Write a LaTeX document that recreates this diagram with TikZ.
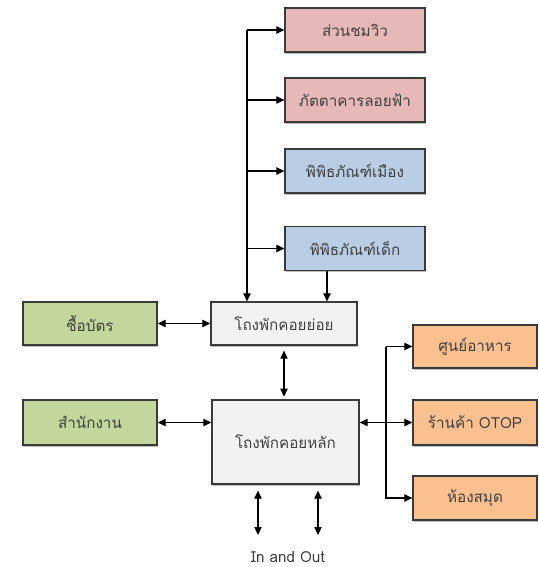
\documentclass[tikz,border=0pt]{standalone}
\usepackage{fontspec}
\newfontfamily\thaifont[Script=Thai]{Loma}
\usetikzlibrary{arrows.meta, shadows}

\definecolor{pinkbox}{HTML}{E6B9B8}
\definecolor{bluebox}{HTML}{B9CDE5}
\definecolor{greenbox}{HTML}{C3D69B}
\definecolor{orangebox}{HTML}{FAC090}
\definecolor{graybox}{HTML}{F2F2F2}
\definecolor{edge}{HTML}{3A3A3A}

\begin{document}
\begin{tikzpicture}[
        box/.style={draw=edge, line width=1.1pt, minimum width=#1, inner sep=0pt,
            font=\thaifont\fontsize{13}{15}\selectfont, text=black!75,
            drop shadow={shadow xshift=1.2pt, shadow yshift=-1.5pt, opacity=0.45, fill=black!60}},
        link/.style={line width=0.9pt, -{Triangle[length=2.4mm, width=2.2mm]}},
        both/.style={line width=0.9pt, {Triangle[length=2.4mm, width=2.2mm]}-{Triangle[length=2.4mm, width=2.2mm]}}
    ]

        \useasboundingbox (0, 0) rectangle (16.14, -17.01);

        \node[box=4.2cm, minimum height=1.32cm, fill=pinkbox] (chom) at (10.65, -0.9) {ส่วนชมวิว};
        \node[box=4.2cm, minimum height=1.32cm, fill=pinkbox] (phattakhan) at (10.65, -3.0) {ภัตตาคารลอยฟ้า};
        \node[box=4.2cm, minimum height=1.32cm, fill=bluebox] (museumcity) at (10.65, -5.13) {พิพิธภัณฑ์เมือง};
        \node[box=4.2cm, minimum height=1.32cm, fill=bluebox] (museumkid) at (10.65, -7.455) {พิพิธภัณฑ์เด็ก};

        \node[box=4.38cm, minimum height=1.29cm, fill=graybox] (hallsub) at (8.52, -9.705) {โถงพักคอยย่อย};
        \node[box=4.41cm, minimum height=2.52cm, fill=graybox] (hallmain) at (8.565, -13.26) {โถงพักคอยหลัก};

        \node[box=4.02cm, minimum height=1.29cm, fill=greenbox] (ticket) at (2.7, -9.705) {ซื้อบัตร};
        \node[box=4.02cm, minimum height=1.35cm, fill=greenbox] (office) at (2.7, -12.675) {สำนักงาน};

        \node[box=3.72cm, minimum height=1.29cm, fill=orangebox] (food) at (14.25, -10.395) {ศูนย์อาหาร};
        \node[box=3.72cm, minimum height=1.35cm, fill=orangebox] (otop) at (14.25, -12.675) {ร้านค้า OTOP};
        \node[box=3.72cm, minimum height=1.32cm, fill=orangebox] (library) at (14.25, -14.94) {ห้องสมุด};

        \node[font=\thaifont\fontsize{13}{15}\selectfont, text=black!75, inner sep=0pt, anchor=base] (inout) at (8.64, -16.86) {In and Out};

        \coordinate (ltop) at (7.41, -0.9);
        \coordinate (rbus) at (11.58, -12.675);
        \coordinate (io1) at (7.74, -16.05);
        \coordinate (io2) at (9.54, -16.05);

        \draw[link] (ltop) -- (ltop |- hallsub.north);
        \foreach \n in {chom, phattakhan, museumcity, museumkid}
            \draw[link] (ltop |- \n.west) -- (\n.west);
        \draw[link] ([xshift=-0.84cm]museumkid.south) -- ([xshift=-0.84cm]museumkid.south |- hallsub.north);

        \draw[both] (ticket) -- (hallsub);
        \draw[both, shorten <=0.15cm, shorten >=0.08cm] (hallsub.south) -- (hallsub.south |- hallmain.north);
        \draw[both] (office.east) -- (office.east -| hallmain.west);
        \draw[both] (hallmain.east |- otop.west) -- (otop.west);
        \draw[link] (rbus |- food.west) |- (library.west);
        \draw[link] (rbus |- food.west) -- (food.west);

        \draw[both] ([yshift=-0.18cm]hallmain.south -| io1) -- (io1);
        \draw[both] ([yshift=-0.18cm]hallmain.south -| io2) -- (io2);
    \end{tikzpicture}
\end{document}
